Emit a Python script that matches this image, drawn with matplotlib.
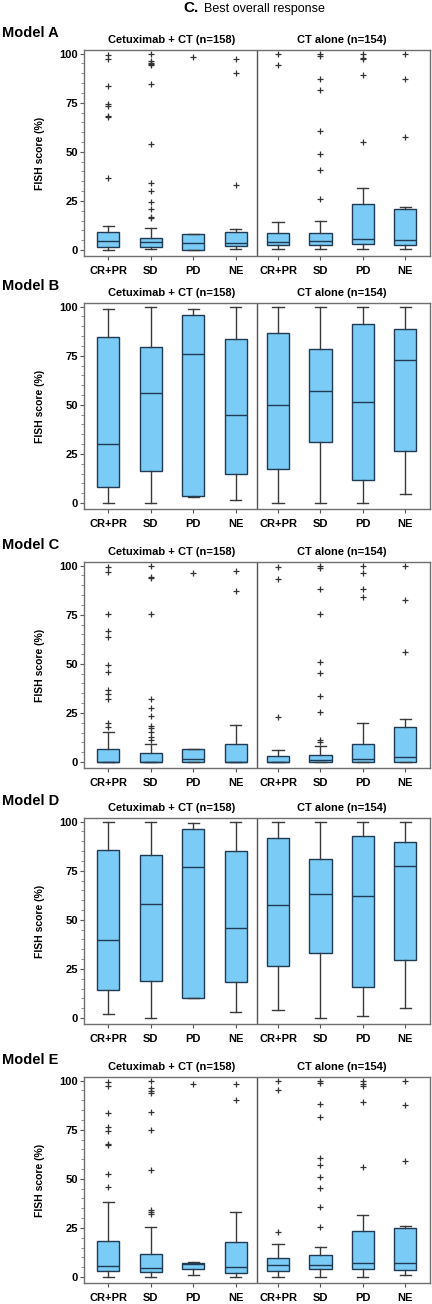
import matplotlib
matplotlib.use("Agg")
import matplotlib.pyplot as plt
from matplotlib.ticker import MultipleLocator

plt.rcParams["font.family"] = ["Liberation Sans", "DejaVu Sans"]

# ---- data ----
groups = ["CR+PR", "SD", "PD", "NE", "CR+PR", "SD", "PD", "NE"]
arms = ["Cetuximab + CT (n=158)", "CT alone (n=154)"]
models = ["Model A", "Model B", "Model C", "Model D", "Model E"]

A_lo = [0.3, 0.5, 0.3, 0.5, 0.5, 0.5, 0.5, 0.5]
A_q1 = [1.4, 1.5, 0.3, 2.2, 2.5, 2.5, 2.9, 2.5]
A_med = [4.7, 3.9, 3.7, 3.7, 4.2, 4.6, 5.4, 4.9]
A_q3 = [9.3, 6.3, 8.0, 9.0, 8.5, 8.5, 23.7, 20.7]
A_hi = [12.5, 11.0, 8.0, 10.8, 14.4, 14.7, 31.8, 21.7]
A_fliers = [
    [99.5, 97.1, 83.6, 74.5, 73.4, 68.0, 67.6, 36.5],
    [100, 96, 95, 94.5, 94, 84.3, 54, 34.2, 30.1, 24.5, 20.8, 16.9, 16.4],
    [98],
    [97, 90.2, 33.2],
    [100, 94.4],
    [100, 98.8, 87.1, 81.7, 60.6, 49.1, 41, 26.2],
    [100, 97.5, 97.1, 89.2, 55],
    [100, 87.1, 57.4],
]

B_lo = [0.3, 0.3, 2.9, 1.4, 0.3, 0.3, 0.3, 4.4]
B_q1 = [8.3, 16.1, 3.6, 14.9, 17.1, 31.0, 12.0, 26.6]
B_med = [30.2, 55.9, 75.9, 44.7, 49.8, 57.1, 51.5, 72.9]
B_q3 = [84.6, 79.2, 95.8, 83.4, 86.3, 78.3, 91.0, 88.5]
B_hi = [99, 100, 99, 100, 100, 100, 100, 100]
B_fliers = [[], [], [], [], [], [], [], []]

C_lo = [0, 0, 0, 0, 0, 0, 0, 0]
C_q1 = [0, 0, 0, 0, 0, 0, 0, 0]
C_med = [0, 0, 1.4, 0, 0, 1.2, 1.4, 2.4]
C_q3 = [6.5, 4.4, 6.5, 9.2, 2.9, 3.7, 9.2, 17.9]
C_hi = [15.1, 9.2, 6.5, 18.9, 6.1, 8.0, 19.7, 22.1]
C_fliers = [
    [99.3, 96.8, 75.1, 66.8, 63.8, 49.4, 45.7, 36.8, 34.8, 32.1, 19.9, 17.9],
    [100, 94.2, 93.5, 75.1, 32.1, 27.3, 23.5, 18.5, 17.3, 15.1, 12.9, 11.2],
    [96.4],
    [97.1, 87.2],
    [99.2, 93.3, 22.7],
    [100, 98.7, 88.2, 75.1, 50.8, 45.4, 33.4, 25.6, 11.3, 10.4],
    [100, 96, 88.2, 84.1],
    [100, 82.3, 56],
]

D_lo = [2.2, 0, 10.2, 3.1, 4.1, 0, 1.0, 5.1]
D_q1 = [14.1, 18.7, 10.4, 18.4, 26.7, 33.2, 16.0, 29.5]
D_med = [39.7, 57.9, 76.8, 45.8, 57.4, 63.0, 62.0, 77.5]
D_q3 = [85.3, 83.1, 96.1, 85.2, 91.7, 80.9, 92.8, 89.8]
D_hi = [100, 100, 99.1, 100, 100, 100, 100, 100]
D_fliers = [[], [], [], [], [], [], [], []]

E_lo = [0.2, 0.2, 1.2, 0.2, 0.2, 0.2, 0.2, 1.2]
E_q1 = [2.9, 2.4, 4.1, 1.9, 3.2, 3.9, 3.9, 3.7]
E_med = [5.8, 4.4, 6.8, 4.9, 6.0, 6.0, 7.1, 7.0]
E_q3 = [18.2, 11.6, 7.1, 18.0, 9.5, 11.0, 23.3, 25.0]
E_hi = [38.4, 25.3, 7.8, 33.0, 17.0, 15.1, 31.6, 26.2]
E_fliers = [
    [99.1, 97.1, 83.5, 76.2, 74.3, 67.8, 67.4, 52.4, 45.9],
    [100, 96.1, 94.9, 93.7, 84.2, 75, 54.6, 34.2, 33.2, 32.1],
    [98],
    [98, 90.3],
    [100, 95.4, 22.7],
    [100, 98.8, 88.1, 81.6, 60.5, 57, 50.7, 45.2, 35.7, 25.7],
    [100, 98.3, 97.3, 89.3, 56.1],
    [100, 87.6, 59],
]

# ---- layout (pixels) ----
W, H = 432, 1304
AX_LEFT, AX_RIGHT = 84, 430
AX_TOPS = [50, 303, 562, 818, 1077]
AX_H = 206

BOX_FILL = "#7ACBF5"
BOX_EDGE = "#1f3a55"
WHISK = "#3a3a3a"


def make_stats(lo, q1, med, q3, hi, fliers):
    stats = []
    for i in range(len(lo)):
        stats.append(dict(whislo=lo[i], q1=q1[i], med=med[i], q3=q3[i],
                          whishi=hi[i], fliers=fliers[i], label=groups[i]))
    return stats


def draw_panel(fig, top, name, stats):
    ax = fig.add_axes([AX_LEFT / W, 1 - (top + AX_H) / H,
                       (AX_RIGHT - AX_LEFT) / W, AX_H / H])
    ax.bxp(stats, positions=range(1, 9), widths=0.52, patch_artist=True,
           boxprops=dict(facecolor=BOX_FILL, edgecolor=BOX_EDGE, linewidth=1.0),
           medianprops=dict(color=BOX_EDGE, linewidth=1.0),
           whiskerprops=dict(color=WHISK, linewidth=1.0),
           capprops=dict(color=WHISK, linewidth=1.0),
           flierprops=dict(marker="+", markersize=4.5, markeredgecolor="#333333",
                           markeredgewidth=0.9, linestyle="none"))
    ax.axvline(4.5, color="#555555", linewidth=1.0)
    ax.set_xlim(0.43, 8.58)
    ax.set_ylim(-3, 101.8)
    ax.yaxis.set_major_locator(MultipleLocator(25))
    ax.yaxis.set_minor_locator(MultipleLocator(5))
    ax.set_yticks([0, 25, 50, 75, 100])
    ax.set_xticks(range(1, 9))
    ax.set_xticklabels(groups)
    for lab in ax.get_xticklabels() + ax.get_yticklabels():
        lab.set_fontweight("bold")
    ax.tick_params(axis="x", length=3, pad=4.5, labelsize=8, color="#555555")
    ax.tick_params(axis="y", which="major", length=3, pad=1.5, labelsize=8,
                   color="#555555")
    ax.tick_params(axis="y", which="minor", length=2, color="#777777")
    for s in ax.spines.values():
        s.set_color("#707070")
        s.set_linewidth(1.0)
    ax.set_ylabel("FISH score (%)", fontsize=7.5, fontweight="bold")
    ax.yaxis.set_label_coords(-0.113, 0.5)

    # arm titles above each half
    for xc, arm in zip([2.5, 6.5], arms):
        ax.text(xc, 1.0 + 10 / AX_H, arm, transform=ax.get_xaxis_transform(),
                ha="center", va="center", fontsize=8, fontweight="bold")
    fig.text(2 / W, 1 - (top - 17) / H, name, ha="left", va="center",
             fontsize=10.5, fontweight="bold")
    return ax


fig = plt.figure(figsize=(W / 100, H / 100), dpi=100)

fig.text(183 / W, 1 - 12 / H, "C.", ha="left", va="baseline",
         fontsize=11, fontweight="bold")
fig.text(204 / W, 1 - 12 / H, "Best overall response", ha="left",
         va="baseline", fontsize=9)

all_stats = [
    make_stats(A_lo, A_q1, A_med, A_q3, A_hi, A_fliers),
    make_stats(B_lo, B_q1, B_med, B_q3, B_hi, B_fliers),
    make_stats(C_lo, C_q1, C_med, C_q3, C_hi, C_fliers),
    make_stats(D_lo, D_q1, D_med, D_q3, D_hi, D_fliers),
    make_stats(E_lo, E_q1, E_med, E_q3, E_hi, E_fliers),
]

for top, name, st in zip(AX_TOPS, models, all_stats):
    draw_panel(fig, top, name, st)

fig.savefig("out.png", dpi=100)
